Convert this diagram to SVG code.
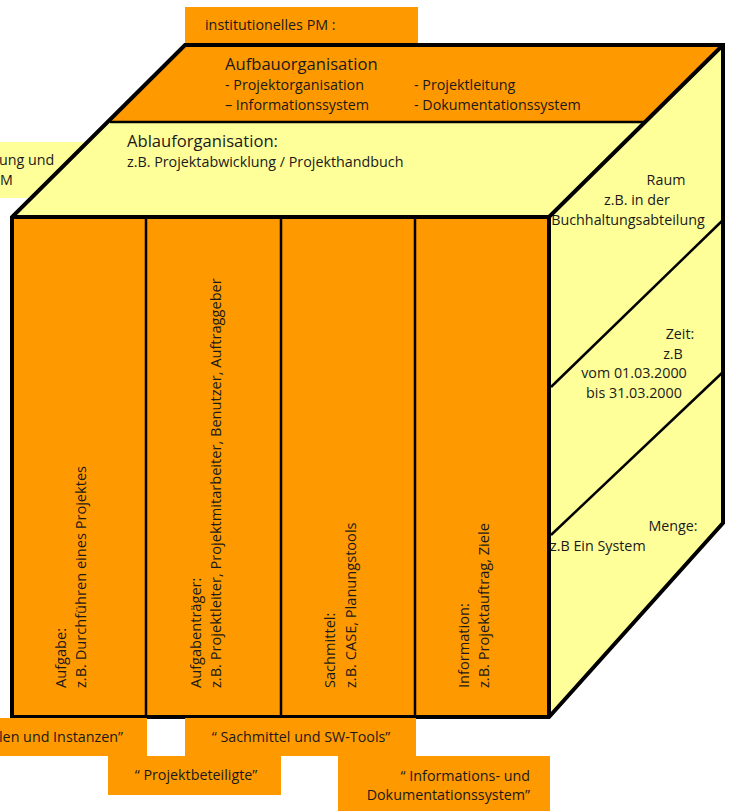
<svg xmlns="http://www.w3.org/2000/svg" width="730" height="811" viewBox="0 0 730 811">
<style>
  text { font-family: "Open Sans", "Noto Sans", "DejaVu Sans", sans-serif; fill: #1a1a1a; }
  .s13 { font-size: 14.3px; }
  .v { font-size: 14.6px; }
  .s15 { font-size: 16.6px; }
  .mid { text-anchor: middle; }
  .end { text-anchor: end; }
  .or { fill: #FF9900; }
  .ye { fill: #FFFF99; }
  .outline { fill: none; stroke: #000; stroke-width: 4; stroke-linejoin: miter; }
  .thin { fill: none; stroke: #000; stroke-width: 2.5; }
</style>

<!-- label behind cube (left, partly hidden) -->
<g id="label-funktionell">
  <rect class="ye" x="-5" y="142" width="200" height="56"/>
  <text class="s13" x="-1" y="165">ung und</text>
  <text class="s13" x="0" y="185">M</text>
</g>

<g id="label-institutionell">
  <rect class="or" x="185" y="7" width="233" height="40"/>
  <text class="s13" x="205" y="30">institutionelles PM :</text>
</g>

<!-- top face -->
<g id="top-aufbau">
  <polygon class="or" points="185,45 723,45 644,122 110,122"/>
  <text class="s15" x="225" y="70">Aufbauorganisation</text>
  <text class="s13" x="225" y="90">- Projektorganisation</text>
  <text class="s13" x="225" y="110">– Informationssystem</text>
  <text class="s13" x="414" y="90">- Projektleitung</text>
  <text class="s13" x="414" y="110">- Dokumentationssystem</text>
</g>
<g id="top-ablauf">
  <polygon class="ye" points="110,122 644,122 549,217 12,217"/>
  <text class="s15" x="127" y="147">Ablauforganisation:</text>
  <text class="s13" x="127" y="167">z.B. Projektabwicklung / Projekthandbuch</text>
</g>

<!-- right face -->
<g id="right-face">
  <polygon class="ye" points="549,217 723,45 723,523 549,717"/>
</g>
<g id="right-raum">
  <text class="s13 mid" x="666" y="185">Raum</text>
  <text class="s13 mid" x="637" y="205">z.B. in der</text>
  <text class="s13 mid" x="628" y="225">Buchhaltungsabteilung</text>
</g>
<g id="right-zeit">
  <text class="s13 mid" x="680" y="339">Zeit:</text>
  <text class="s13 mid" x="673" y="359">z.B</text>
  <text class="s13 mid" x="634" y="378">vom 01.03.2000</text>
  <text class="s13 mid" x="634" y="398">bis 31.03.2000</text>
</g>
<g id="right-menge">
  <text class="s13 mid" x="673" y="531">Menge:</text>
  <text class="s13" x="550" y="551">z.B Ein System</text>
</g>

<!-- front face columns -->
<g id="col-aufgabe">
  <rect class="or" x="12" y="217" width="134" height="500"/>
  <g transform="translate(12,688) rotate(-90)">
    <text class="v" x="0" y="54">Aufgabe:</text>
    <text class="v" x="0" y="74">z.B. Durchführen eines Projektes</text>
  </g>
</g>
<g id="col-aufgabentraeger">
  <rect class="or" x="146" y="217" width="135" height="500"/>
  <g transform="translate(146,688) rotate(-90)">
    <text class="v" x="0" y="55">Aufgabenträger:</text>
    <text class="v" x="0" y="75">z.B. Projektleiter, Projektmitarbeiter, Benutzer, Auftraggeber</text>
  </g>
</g>
<g id="col-sachmittel">
  <rect class="or" x="281" y="217" width="134" height="500"/>
  <g transform="translate(281,688) rotate(-90)">
    <text class="v" x="0" y="54">Sachmittel:</text>
    <text class="v" x="0" y="75">z.B. CASE, Planungstools</text>
  </g>
</g>
<g id="col-information">
  <rect class="or" x="415" y="217" width="134" height="500"/>
  <g transform="translate(415,688) rotate(-90)">
    <text class="v" x="0" y="54">Information:</text>
    <text class="v" x="0" y="74">z.B. Projektauftrag, Ziele</text>
  </g>
</g>

<!-- cube lines -->
<g id="cube-lines">
  <line class="thin" x1="110" y1="122" x2="644" y2="122"/>
  <line class="thin" x1="723" y1="220" x2="551" y2="387"/>
  <line class="thin" x1="723" y1="372" x2="551" y2="535"/>
  <line class="thin" x1="146" y1="217" x2="146" y2="717"/>
  <line class="thin" x1="281" y1="217" x2="281" y2="717"/>
  <line class="thin" x1="415" y1="217" x2="415" y2="717"/>
  <polygon class="outline" points="185,45 723,45 723,523 549,717 12,717 12,217"/>
  <polyline class="outline" points="12,217 549,217 723,45"/>
  <line class="outline" x1="549" y1="217" x2="549" y2="717"/>
</g>

<!-- bottom labels -->
<g id="label-stellen">
  <rect class="or" x="-5" y="718" width="152" height="38"/>
  <text class="s13" x="-1" y="742">len und Instanzen”</text>
</g>
<g id="label-sachmittel">
  <rect class="or" x="185" y="718" width="231" height="38"/>
  <text class="s13 mid" x="301" y="742">“ Sachmittel und SW-Tools”</text>
</g>
<g id="label-projektbeteiligte">
  <rect class="or" x="108" y="756" width="173" height="39"/>
  <text class="s13 mid" x="196" y="780">“ Projektbeteiligte”</text>
</g>
<g id="label-informationssystem">
  <rect class="or" x="338" y="756" width="212" height="60"/>
  <text class="s13 end" x="530" y="781">“ Informations- und</text>
  <text class="s13 end" x="530" y="800">Dokumentationssystem”</text>
</g>
</svg>
